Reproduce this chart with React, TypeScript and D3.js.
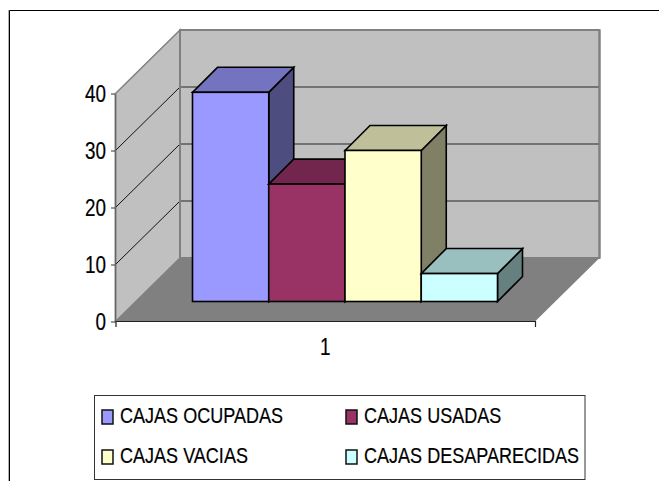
import * as d3 from "d3"
import React, { useRef, useEffect } from 'react';

const seriesNames = ["CAJAS OCUPADAS", "CAJAS USADAS", "CAJAS VACIAS", "CAJAS DESAPARECIDAS"];
const seriesValues = [36.7, 20.6, 26.5, 4.9];
const seriesColors = ["#9999ff", "#993366", "#ffffcc", "#ccffff"];
const yTicks = [0, 10, 20, 30, 40];
const categories = ["1"];

const width = 659;
const height = 481;

// the reference text is narrow and tall, so squeeze it sideways
const textSqueeze = 0.82;
const font = "'Liberation Sans', Arial, sans-serif";

const App: React.FC = () => {
    const svgRef = useRef<SVGSVGElement | null>(null);

    useEffect(() => {
        const svg = d3.select(svgRef.current)
            .attr('width', width)
            .attr('height', height);
        svg.selectAll("*").remove();

        const left = 115.5;
        const right = 535;
        const depthX = 64.5;
        const depthY = 63.5;
        const barDepth = 25;
        const barLift = 20;

        const y = d3.scaleLinear().domain([0, 40]).range([321.5, 93.5]);
        const x = d3.scaleBand<string>().domain(categories).range([left, right]);
        const barX = d3.scaleBand<string>().domain(seriesNames).range([192.5, 497.5]);

        const poly = (pts: number[][], fill: string, stroke = "none", sw = 0) =>
            svg.append('polygon')
                .attr('points', pts.map(p => p.join(',')).join(' '))
                .attr('fill', fill)
                .attr('stroke', stroke)
                .attr('stroke-width', sw)
                .attr('stroke-linejoin', 'miter');

        // outer frame
        svg.append('path').attr('d', `M8.5,${height}V10`).attr('stroke', '#b0b0b0').attr('fill', 'none');
        svg.append('path').attr('d', `M9.5,${height}V10.5H${width}`).attr('stroke', '#000').attr('fill', 'none');

        const yTop = y(40);
        const yBot = y(0);

        // walls and floor
        poly([[left + depthX, yTop - depthY], [right + depthX, yTop - depthY], [right + depthX, yBot - depthY], [left + depthX, yBot - depthY]], "#c0c0c0", "#808080", 2);
        poly([[left, yTop], [left + depthX, yTop - depthY], [left + depthX, yBot - depthY], [left, yBot]], "#c0c0c0", "#808080", 1.5);
        poly([[left, yBot], [left + depthX, yBot - depthY], [right + depthX, yBot - depthY], [right, yBot]], "#808080");

        // gridlines
        yTicks.filter(t => t > 0 && t < 40).forEach(t => {
            svg.append('line')
                .attr('x1', left).attr('x2', left + depthX)
                .attr('y1', y(t)).attr('y2', y(t) - depthY)
                .attr('stroke', '#111').attr('stroke-width', 1);
            svg.append('line')
                .attr('x1', left + depthX).attr('x2', right + depthX)
                .attr('y1', y(t) - depthY).attr('y2', y(t) - depthY)
                .attr('stroke', '#5a5a5a').attr('stroke-width', 1.5);
        });
        svg.append('line')
            .attr('x1', left + depthX).attr('x2', left + depthX)
            .attr('y1', yTop - depthY).attr('y2', yBot - depthY)
            .attr('stroke', '#808080').attr('stroke-width', 2);
        svg.append('line')
            .attr('x1', right + depthX).attr('x2', right + depthX)
            .attr('y1', yTop - depthY).attr('y2', yBot - depthY)
            .attr('stroke', '#808080').attr('stroke-width', 2);

        // axes (d3 adds half a pixel to its own lines, so pull them back)
        const yAxis = svg.append('g')
            .attr('transform', `translate(${left - 0.5},0)`)
            .call(d3.axisLeft(y).tickValues(yTicks).tickFormat(d3.format("d")).tickSize(4).tickSizeOuter(0));
        yAxis.select('.domain').attr('stroke', '#666').attr('stroke-width', 1.5);
        yAxis.selectAll('.tick line').attr('stroke', '#333');
        yAxis.selectAll<SVGTextElement, number>('.tick text')
            .attr('font-family', font)
            .attr('font-size', 23)
            .attr('fill', '#000')
            .attr('stroke', '#000')
            .attr('stroke-width', 0.2)
            .attr('text-anchor', 'end')
            .attr('x', 0).attr('y', 0).attr('dy', null)
            .attr('transform', `translate(-9,8) scale(${textSqueeze},1)`);

        const xAxis = svg.append('g')
            .attr('transform', `translate(0,${yBot - 0.5})`)
            .call(d3.axisBottom(x).tickSizeOuter(6));
        xAxis.select('.domain').attr('stroke', '#222').attr('stroke-width', 1.2);
        xAxis.selectAll('.tick line').remove();
        xAxis.selectAll<SVGTextElement, string>('.tick text')
            .attr('font-family', font)
            .attr('font-size', 23)
            .attr('fill', '#000')
            .attr('stroke', '#000')
            .attr('stroke-width', 0.2)
            .attr('text-anchor', 'middle')
            .attr('x', 0).attr('y', 0).attr('dy', null)
            .attr('transform', `translate(0,34) scale(${textSqueeze},1)`);

        // bars, drawn left to right so each one covers the previous side face
        seriesNames.forEach((name, i) => {
            const v = seriesValues[i];
            const base = d3.rgb(seriesColors[i]);
            const x0 = barX(name)!;
            const x1 = x0 + barX.bandwidth();
            const top = y(v) - barLift;
            const bot = y(0) - barLift;
            const shade = (k: number) => d3.rgb(base.r * k, base.g * k, base.b * k).formatHex();
            poly([[x1, top], [x1 + barDepth, top - barDepth], [x1 + barDepth, bot - barDepth], [x1, bot]], shade(0.5), "#000", 1.6);
            poly([[x0, top], [x0 + barDepth, top - barDepth], [x1 + barDepth, top - barDepth], [x1, top]], shade(0.75), "#000", 1.6);
            svg.append('rect')
                .attr('x', x0).attr('y', top)
                .attr('width', x1 - x0).attr('height', bot - top)
                .attr('fill', seriesColors[i])
                .attr('stroke', '#000').attr('stroke-width', 1.6);
        });

        // legend
        svg.append('rect')
            .attr('x', 94.5).attr('y', 395.5)
            .attr('width', 490.5).attr('height', 84)
            .attr('fill', '#fff')
            .attr('stroke', '#333').attr('stroke-width', 1);

        const legendCol = d3.scaleOrdinal<number, number>().domain([0, 1]).range([102, 346]);
        const legendRow = d3.scaleOrdinal<number, number>().domain([0, 1]).range([410, 450]);
        seriesNames.forEach((name, i) => {
            const lx = legendCol(i % 2);
            const ly = legendRow(Math.floor(i / 2));
            svg.append('rect')
                .attr('x', lx).attr('y', ly)
                .attr('width', 11).attr('height', 14)
                .attr('fill', seriesColors[i])
                .attr('stroke', '#111').attr('stroke-width', 1.5);
            svg.append('text')
                .attr('transform', `translate(${lx + 18},${ly + 13}) scale(${textSqueeze},1)`)
                .attr('font-family', font)
                .attr('font-size', 22)
                .attr('fill', '#000')
                .attr('stroke', '#000')
                .attr('stroke-width', 0.2)
                .text(name);
        });
    }, []);

    return (
        <svg ref={svgRef} style={{ position: 'absolute', left: 0, top: 0, display: 'block', background: '#fff' }}></svg>
    );
};

export default App;
